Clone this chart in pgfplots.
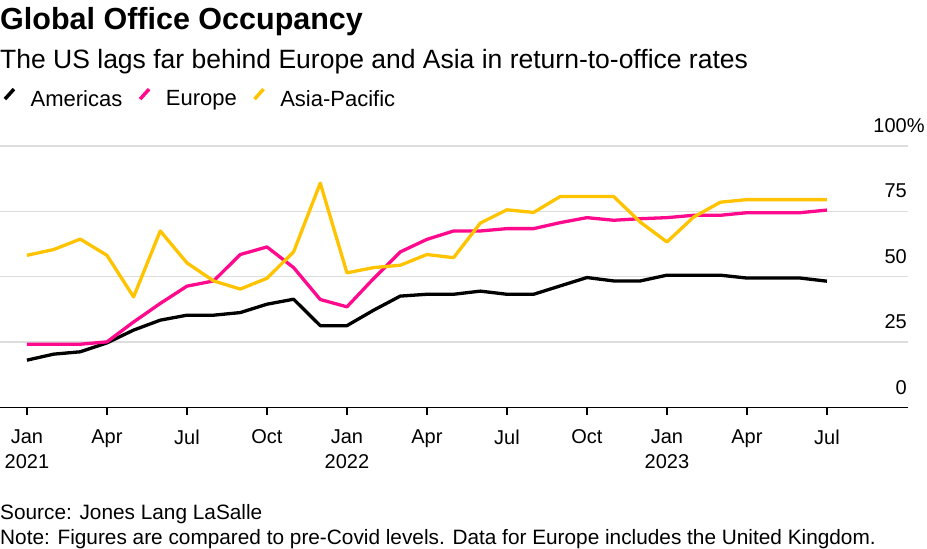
\documentclass[border=0pt]{standalone}
\usepackage{pgfplots}
\pgfplotsset{compat=1.18}
\usepackage{fontspec}
\setmainfont{Liberation Sans}
\definecolor{amer}{HTML}{000000}
\definecolor{eur}{HTML}{FF0A8C}
\definecolor{asia}{HTML}{FFC300}
\definecolor{gridc}{HTML}{DDDDDD}
\begin{document}
\begin{tikzpicture}
\begin{axis}[
  at={(0,0)}, anchor=south west, scale only axis,
  width=908bp, height=261.5bp,
  xmin=-1.01, xmax=33.04, ymin=0, ymax=100,
  axis x line=bottom, axis y line=right,
  x axis line style={-, black, line width=1.3bp},
  y axis line style={draw=none},
  xtick={0,3,...,30},
  xticklabels={Jan\\2021,Apr,Jul,Oct,Jan\\2022,Apr,Jul,Oct,Jan\\2023,Apr,Jul},
  xticklabel style={align=center, font=\fontsize{20bp}{25bp}\selectfont, anchor=north, inner sep=0pt, yshift=-15bp},
  major tick length=7bp,
  xtick style={draw=black, line width=1.2bp},
  tick align=outside,
  ytick={0,25,50,75,100},
  yticklabels={0,25,50,75,100\rlap{\%}},
  yticklabel style={anchor=base east, inner sep=0pt, font=\fontsize{20bp}{24bp}\selectfont, xshift=-8bp, yshift=13.5bp},
  ytick style={draw=none},
  ymajorgrids, major grid style={draw=gridc, line width=1.3bp},
  legend style={at={(0,1)}, anchor=south west, xshift=3bp, yshift=36bp, draw=none, fill=none, legend columns=-1, font=\fontsize{22bp}{26bp}\selectfont, inner sep=0pt, /tikz/every even column/.append style={column sep=14bp}, /tikz/every odd column/.append style={column sep=13bp}},
  legend image code/.code={\draw[#1, line width=3.5bp] (0bp,0bp) -- (9bp,10bp);},
  every axis plot/.append style={line width=3.3bp, line join=round},
]
\addplot[amer] coordinates {
(0,18.1)(1,20.4)(2,21.3)(3,24.7)(4,29.6)(5,33.4)(6,35.3)(7,35.3)(8,36.3)(9,39.5)(10,41.4)(11,31.3)
(12,31.3)(13,37.2)(14,42.6)(15,43.3)(16,43.3)(17,44.5)(18,43.3)(19,43.3)(20,46.5)(21,49.7)(22,48.4)(23,48.4)
(24,50.6)(25,50.6)(26,50.6)(27,49.5)(28,49.5)(29,49.5)(30,48.3)};
\addlegendentry{Americas}
\addplot[eur] coordinates {
(0,24.2)(1,24.2)(2,24.2)(3,25.1)(4,32.7)(5,39.8)(6,46.4)(7,48.4)(8,58.5)(9,61.4)(10,53.5)(11,41.3)
(12,38.5)(13,49.3)(14,59.5)(15,64.3)(16,67.5)(17,67.5)(18,68.4)(19,68.4)(20,70.7)(21,72.6)(22,71.6)(23,72.2)
(24,72.6)(25,73.5)(26,73.5)(27,74.5)(28,74.5)(29,74.5)(30,75.5)};
\addlegendentry{Europe}
\addplot[asia] coordinates {
(0,58.2)(1,60.4)(2,64.4)(3,58.2)(4,42.3)(5,67.5)(6,55.3)(7,48.4)(8,45.3)(9,49.4)(10,59.5)(11,85.8)
(12,51.5)(13,53.5)(14,54.4)(15,58.5)(16,57.3)(17,70.5)(18,75.6)(19,74.6)(20,80.7)(21,80.7)(22,80.7)(23,70.9)
(24,63.3)(25,72.8)(26,78.5)(27,79.5)(28,79.5)(29,79.5)(30,79.5)};
\addlegendentry{Asia-Pacific}
\end{axis}
\node[anchor=base west, inner sep=0pt, font=\bfseries\fontsize{30.5bp}{34bp}\selectfont] at (0bp,378.2bp) {Global Office Occupancy};
\node[anchor=base west, inner sep=0pt, font=\fontsize{26.5bp}{30bp}\selectfont] at (0bp,339.2bp) {The US lags far behind Europe and Asia in return-to-office rates};
\node[anchor=base west, inner sep=0pt, font=\fontsize{20.8bp}{24bp}\selectfont] at (0bp,-111.5bp) {Source: Jones Lang LaSalle};
\node[anchor=base west, inner sep=0pt, font=\fontsize{20.8bp}{24bp}\selectfont] at (0bp,-136.5bp) {Note: Figures are compared to pre-Covid levels. Data for Europe includes the United Kingdom.};
\pgfresetboundingbox
\path (0bp,-141.5bp) rectangle (927bp,407.5bp);
\end{tikzpicture}
\end{document}
